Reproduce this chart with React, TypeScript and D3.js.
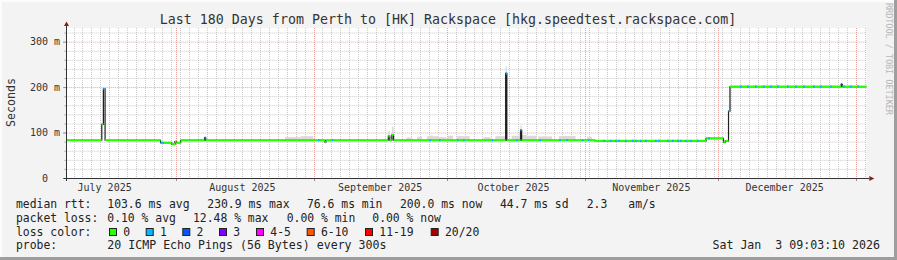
import React from "react";
import * as d3 from "d3";

const W = 897;
const H = 260;
const START = "2025-07-07T09:03:10";
const END = "2026-01-03T09:03:10";
const TITLE = "Last 180 Days from Perth to [HK] Rackspace [hkg.speedtest.rackspace.com]";

const yMajor = [100, 200, 300];
const yTickValues = [0, 100, 200, 300];
const yTickLabels = ["0", "100 m", "200 m", "300 m"];
const monthStarts = ["2025-08-01", "2025-09-01", "2025-10-01", "2025-11-01", "2025-12-01", "2026-01-01"];
const monthLabelAt = ["2025-07-16", "2025-08-16", "2025-09-16", "2025-10-16", "2025-11-16", "2025-12-16"];
const monthLabels = ["July 2025", "August 2025", "September 2025", "October 2025", "November 2025", "December 2025"];

// median rtt as runs: start time, value (ms), lost pings (of 20)
const medianTimes = [
  "2025-07-07T09:00", "2025-07-15T08:40", "2025-07-15T17:15", "2025-07-16T02:25",
  "2025-07-28T14:00", "2025-07-29T09:00", "2025-07-31T02:30", "2025-07-31T20:00", "2025-08-01T04:00",
  "2025-08-02T03:00", "2025-08-07T11:30", "2025-08-07T18:00",
  "2025-09-03T14:00", "2025-09-03T19:00",
  "2025-09-17T20:00", "2025-09-18T04:00", "2025-09-18T15:00", "2025-09-19T00:00",
  "2025-10-14T05:30", "2025-10-14T12:00",
  "2025-10-17T14:00", "2025-10-17T20:00",
  "2025-11-03T08:00", "2025-11-28T07:40", "2025-12-02T06:00", "2025-12-02T16:00",
  "2025-12-03T09:00", "2025-12-03T17:00", "2025-12-28T17:00", "2025-12-28T23:00",
];
const medianValues = [
  83, 118, 196, 83,
  77.5, 77.5, 74.5, 80, 77.5,
  83, 89, 83,
  79, 83,
  92, 83, 94.5, 83,
  230, 83,
  105.5, 83,
  81.5, 87, 79, 81.5,
  147, 201, 206, 201,
];
const medianLoss = [
  0, 0, 1, 0,
  1, 0, 0, 0, 0,
  0, 1, 0,
  0, 0,
  0, 0, 0, 0,
  1, 0,
  1, 0,
  0, 0, 0, 0,
  1, 0, 3, 0,
];

// single samples with one lost ping along the median
const lossOneTimes = [
  "2025-09-02T00:00", "2025-09-05T04:00", "2025-09-27T01:30", "2025-09-29T06:00",
  "2025-10-03T07:00", "2025-10-04T15:30", "2025-10-11T03:00", "2025-10-16T14:00",
  "2025-10-21T19:30", "2025-10-26T07:00", "2025-10-27T21:00", "2025-10-31T10:00",
  "2025-11-01T18:30", "2025-11-05T03:00", "2025-11-06T17:00", "2025-11-07T20:00",
  "2025-11-08T12:30", "2025-11-10T02:00", "2025-11-11T16:00", "2025-11-12T08:00",
  "2025-11-13T11:00", "2025-11-14T14:30", "2025-11-16T20:00", "2025-11-17T12:30",
  "2025-11-19T13:00", "2025-11-20T16:00", "2025-11-21T19:00", "2025-11-22T11:00",
  "2025-11-23T14:00", "2025-11-24T17:00", "2025-11-26T07:00", "2025-11-28T19:00",
  "2025-12-05T23:00", "2025-12-07T13:00", "2025-12-09T08:00", "2025-12-11T03:30",
  "2025-12-12T17:00", "2025-12-14T07:00", "2025-12-16T13:00", "2025-12-18T08:00",
  "2025-12-20T03:30", "2025-12-22T09:30", "2025-12-23T23:00", "2025-12-26T05:00",
  "2025-12-29T03:30", "2025-12-30T17:00", "2026-01-01T07:00",
];

// smoke (ping spread): start, end, low ms, high ms
const smokeStart = [
  "2025-08-25T14:00", "2025-08-29T02:00", "2025-09-21T22:00", "2025-09-24T08:00",
  "2025-09-26T13:00", "2025-09-27T04:00", "2025-09-29T06:00", "2025-10-01T06:00",
  "2025-10-03T07:00", "2025-10-09T06:00", "2025-10-11T22:00", "2025-10-15T14:00",
  "2025-10-17T08:00", "2025-10-21T13:00", "2025-10-26T05:00", "2025-11-01T13:00",
  "2025-09-17T20:00", "2025-09-18T15:00", "2025-10-14T05:30", "2025-10-17T14:00",
];
const smokeEnd = [
  "2025-08-29T02:00", "2025-08-31T23:00", "2025-09-23T07:00", "2025-09-25T11:00",
  "2025-09-29T06:00", "2025-09-27T20:00", "2025-09-30T22:00", "2025-10-02T10:00",
  "2025-10-06T04:00", "2025-10-10T20:00", "2025-10-14T04:00", "2025-10-21T04:00",
  "2025-10-19T00:00", "2025-10-24T16:00", "2025-10-29T23:00", "2025-11-02T16:00",
  "2025-09-18T04:00", "2025-09-19T00:00", "2025-10-14T12:00", "2025-10-17T20:00",
];
const smokeLow = [
  83, 83, 83, 83, 83, 83, 83, 83, 83, 83, 83, 83, 83, 83, 83, 83,
  83, 83, 83, 83,
];
const smokeHigh = [
  90, 92, 89, 91, 92, 93.5, 90, 93, 92, 90, 92, 93, 94.5, 91.5, 92.5, 90.5,
  103, 113, 246, 116,
];

const lossColors = ["#26ff00", "#00b8ff", "#0059ff", "#7e00ff", "#ff00ff", "#ff5500", "#ff0000", "#a00000"];
const lossNames = ["0", "1", "2", "3", "4-5", "6-10", "11-19", "20/20"];

// legend text pieces
const legendRtt = ["median rtt:", "103.6 ms avg", "230.9 ms max", "76.6 ms min", "200.0 ms now", "44.7 ms sd", "2.3", "am/s"];
const legendLoss = ["packet loss:", "0.10 % avg", "12.48 % max", "0.00 % min", "0.00 % now"];
const probeText = "20 ICMP Echo Pings (56 Bytes) every 300s";
const stampText = "Sat Jan  3 09:03:10 2026";

const p = (s: string) => new Date(s.length <= 10 ? s + "T00:00:00Z" : s + (s.length === 16 ? ":00Z" : "Z"));

function lossColor(n: number) {
  if (n <= 0) return lossColors[0];
  if (n === 1) return lossColors[1];
  if (n === 2) return lossColors[2];
  if (n === 3) return lossColors[3];
  if (n <= 5) return lossColors[4];
  if (n <= 10) return lossColors[5];
  if (n <= 19) return lossColors[6];
  return lossColors[7];
}

const MONO = "'DejaVu Sans Mono', monospace";

export default function App() {
  const x0 = 66.3, x1 = 866.3, yBot = 178, yTop = 28;
  const x = d3.scaleUtc().domain([p(START), p(END)]).range([x0, x1]);
  const y = d3.scaleLinear().domain([0, 330]).range([yBot, yTop]);

  const minorX = d3.utcDay.range(p("2025-07-09"), p(END), 2).filter(
    (d) => !monthStarts.some((m) => +p(m) === +d)
  );
  const minorY = d3.range(20, 330, 20).filter((v) => !yMajor.includes(v));

  const endT = p(END);
  const runs = medianTimes.map((t, i) => ({
    t0: p(t),
    t1: i + 1 < medianTimes.length ? p(medianTimes[i + 1]) : endT,
    v: medianValues[i],
    loss: medianLoss[i],
  }));
  const valueAt = (d: Date) => {
    let v = runs[0].v;
    for (const r of runs) if (+r.t0 <= +d) v = r.v;
    return v;
  };
  const stepPts: [number, number][] = runs.map((r) => [x(r.t0), y(r.v)]);
  stepPts.push([x(endT), y(runs[runs.length - 1].v)]);
  const stepLine = d3.line().curve(d3.curveStepAfter)(stepPts) as string;

  const rttX = [16, 107.3, 207.3, 307, 400, 500, 586.7, 628.3];
  const lossX = [16, 107.3, 193, 286.7, 372.3];
  const boxX = [109, 145.7, 182.3, 219, 256, 306.7, 365, 430.7];
  const LF = 11.4;

  return (
    <svg width={W} height={H} style={{ position: "absolute", left: 0, top: 0 }} fontFamily={MONO}>
      <rect x={0} y={0} width={W} height={H} fill="#f3f3f3" />
      <rect x={0} y={0} width={W} height={2} fill="#fcfcfc" />
      <rect x={0} y={0} width={2} height={H} fill="#fcfcfc" />
      <rect x={0} y={H - 3} width={W} height={3} fill="#9e9e9e" />
      <rect x={W - 3} y={0} width={3} height={H} fill="#9e9e9e" />
      <rect x={x0} y={yTop} width={x1 - x0} height={yBot - yTop} fill="#ffffff" />

      {/* grid */}
      {minorY.map((v) => (
        <line key={"my" + v} x1={x0} x2={x1} y1={y(v) + 0.5} y2={y(v) + 0.5} stroke="#c8c8c8" strokeDasharray="1,1" />
      ))}
      {minorX.map((d) => (
        <line key={"mx" + +d} x1={Math.round(x(d)) + 0.5} x2={Math.round(x(d)) + 0.5} y1={yTop} y2={yBot} stroke="#c8c8c8" strokeDasharray="1,1" />
      ))}
      {yMajor.map((v) => (
        <line key={"My" + v} x1={x0 - 3} x2={x1} y1={y(v) + 0.5} y2={y(v) + 0.5} stroke="#eba0a0" strokeDasharray="1,1" />
      ))}
      {monthStarts.map((m) => (
        <line key={"Mx" + m} x1={Math.round(x(p(m))) + 0.5} x2={Math.round(x(p(m))) + 0.5} y1={yTop} y2={yBot + 3} stroke="#eba0a0" strokeDasharray="1,1" />
      ))}
      {minorY.map((v) => (
        <line key={"ty" + v} x1={x0 - 2} x2={x0} y1={y(v) + 0.5} y2={y(v) + 0.5} stroke="#b0b0b0" />
      ))}
      {yMajor.map((v) => (
        <line key={"tY" + v} x1={x0 - 3} x2={x0} y1={y(v) + 0.5} y2={y(v) + 0.5} stroke="#909090" />
      ))}
      {monthStarts.map((m) => (
        <line key={"tM" + m} x1={Math.round(x(p(m))) + 0.5} x2={Math.round(x(p(m))) + 0.5} y1={yBot} y2={yBot + 3} stroke="#909090" />
      ))}

      {/* smoke */}
      {smokeStart.map((s, i) => (
        <rect key={"sm" + i} x={x(p(s))} width={Math.max(1, x(p(smokeEnd[i])) - x(p(s)))} y={y(smokeHigh[i])} height={y(smokeLow[i]) - y(smokeHigh[i])} fill="#dadada" />
      ))}

      {/* median dark line */}
      <path d={stepLine} fill="none" stroke="#202020" strokeWidth={1.2} />
      {/* loss-coloured median */}
      {runs.map((r, i) => (
        <line key={"r" + i} x1={x(r.t0)} x2={x(r.t1)} y1={y(r.v)} y2={y(r.v)} stroke={lossColor(r.loss)} strokeWidth={2.2} />
      ))}
      {lossOneTimes.map((t, i) => {
        const d = p(t);
        const v = valueAt(d);
        return (
          <line key={"l1" + i} x1={x(d)} x2={x(d3.utcHour.offset(d, 9))} y1={y(v)} y2={y(v)} stroke={lossColors[1]} strokeWidth={2.2} />
        );
      })}

      {/* axes */}
      <line x1={x0 - 3} x2={x1 + 3} y1={yBot + 0.5} y2={yBot + 0.5} stroke="#333" />
      <line x1={x0 + 0.2} x2={x0 + 0.2} y1={yBot + 3} y2={yTop - 2} stroke="#333" />
      <path d={`M${x0 - 2.3},${yTop - 2} L${x0 + 2.7},${yTop - 2} L${x0 + 0.2},${yTop - 6.5} Z`} fill="#8b1a1a" />
      <path d={`M${x1 + 3},${yBot - 2} L${x1 + 3},${yBot + 3} L${x1 + 8},${yBot + 0.5} Z`} fill="#8b1a1a" />

      {/* tick labels */}
      {yTickValues.map((v, i) => (
        <text key={"yl" + v} x={v === 0 ? 48 : 60} y={y(v) + 3.6} fontSize={10} textAnchor="end" fill="#333">
          {yTickLabels[i]}
        </text>
      ))}
      {monthLabelAt.map((m, i) => (
        <text key={"xl" + m} x={x(p(m))} y={190.7} fontSize={10} textAnchor="middle" fill="#333">
          {monthLabels[i]}
        </text>
      ))}
      <text transform={`translate(15,102.5) rotate(-90)`} fontSize={11.6} textAnchor="middle" fill="#333">Seconds</text>
      <text x={448} y={23.5} fontSize={13.3} textAnchor="middle" fill="#333">{TITLE}</text>
      <text transform={`translate(885.5,3) rotate(90)`} fontSize={8.6} fill="#b8b8b8" textLength={112} lengthAdjust="spacing">RRDTOOL / TOBI OETIKER</text>

      {/* legend */}
      {legendRtt.map((s, i) => (
        <text key={"a" + i} x={rttX[i]} y={208.3} fontSize={LF} fill="#222">{s}</text>
      ))}
      {legendLoss.map((s, i) => (
        <text key={"b" + i} x={lossX[i]} y={222.3} fontSize={LF} fill="#222">{s}</text>
      ))}
      <text x={16} y={235.7} fontSize={LF} fill="#222">loss color:</text>
      {boxX.map((bx, i) => (
        <g key={"bx" + i}>
          <rect x={bx + 0.5} y={228.5} width={7} height={7} fill={lossColors[i]} stroke="#222" strokeWidth={1} />
          <text x={bx + 14.3} y={235.7} fontSize={LF} fill="#222">{lossNames[i]}</text>
        </g>
      ))}
      <text x={16} y={249.3} fontSize={LF} fill="#222">probe:</text>
      <text x={107.3} y={249.3} fontSize={11.6} fill="#222">{probeText}</text>
      <text x={880} y={249.3} fontSize={11.6} fill="#222" textAnchor="end" style={{ whiteSpace: "pre" }}>{stampText}</text>
    </svg>
  );
}
